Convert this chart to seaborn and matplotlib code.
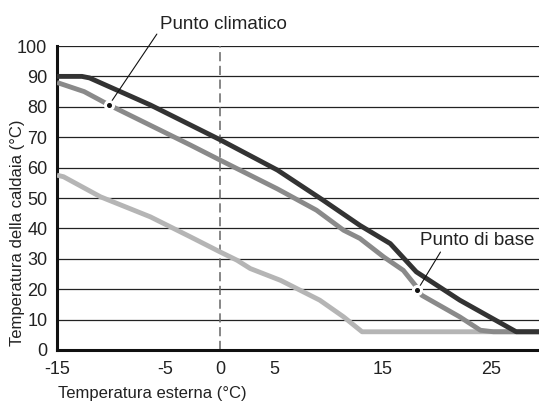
import pandas as pd
import seaborn as sns
import matplotlib.pyplot as plt

sns.set_theme(style="white")
plt.rcParams["font.family"] = ["Liberation Sans", "DejaVu Sans"]
plt.rcParams["axes.unicode_minus"] = False

# curve points (outside temp, boiler temp)
alta_x = [-15, -12.7, -12, -6.4, 0, 5.3, 9.5, 12.9, 15.7, 18.1, 22.1, 27.3, 29.4]
alta_y = [90, 90, 89.5, 80.6, 69.2, 59.2, 49.3, 41, 35, 25.7, 16.4, 6, 6]
media_x = [-15, -12.5, -10.2, -2.7, 0, 5.3, 8.9, 11.4, 12.9, 15.1, 16.9, 18.0, 18.6, 22.1, 24, 25.2, 29.4]
media_y = [88, 85, 80.6, 67.4, 62.5, 53, 46, 39.4, 36.7, 30.6, 26.2, 21.3, 18, 10.9, 6.5, 6, 6]
bassa_x = [-15, -14.4, -11, -6.4, -2.7, 0, 1.6, 2.8, 5.6, 9.2, 11.4, 13.1, 29.4]
bassa_y = [57.5, 57, 50.4, 43.8, 37.2, 32.3, 29.5, 26.8, 22.9, 16.4, 10.9, 6, 6]

punto_climatico = (-10.2, 80.6)
punto_base = (18.2, 19.7)

xticks = [-15, -5, 0, 5, 15, 25]
yticks = list(range(0, 101, 10))

df = pd.concat([
    pd.DataFrame({"x": bassa_x, "y": bassa_y, "curva": "bassa"}),
    pd.DataFrame({"x": media_x, "y": media_y, "curva": "media"}),
    pd.DataFrame({"x": alta_x, "y": alta_y, "curva": "alta"}),
])
colori = {"bassa": "#b5b5b5", "media": "#8a8a8a", "alta": "#333333"}

fig = plt.figure(figsize=(5.39, 4.01), dpi=100)
ax = fig.add_axes([57 / 539, 1 - 350 / 401, 482 / 539, 304 / 401])

for y in yticks[1:]:
    ax.axhline(y, color="#222222", lw=0.9, zorder=1)
ax.axvline(0, color="#666666", lw=1.1, ls=(0, (6, 3)), zorder=1)

sns.lineplot(data=df, x="x", y="y", hue="curva", palette=colori, sort=False,
             estimator=None, lw=3.5, legend=False, ax=ax, zorder=3,
             solid_capstyle="butt")

for px, py in [punto_climatico, punto_base]:
    ax.plot(px, py, "o", ms=7, mfc="white", mec="white", zorder=4, clip_on=False)
    ax.plot(px, py, "o", ms=2.6, mfc="#111111", mec="#111111", zorder=5)

ax.annotate("Punto climatico", xy=punto_climatico, xytext=(-5.5, 107.2),
            fontsize=13.5, color="#222222", va="center", ha="left",
            annotation_clip=False,
            arrowprops=dict(arrowstyle="-", color="#111111", lw=0.8,
                            shrinkA=0, shrinkB=0, relpos=(0, 0.2)))
ax.annotate("Punto di base", xy=punto_base, xytext=(18.4, 36.1),
            fontsize=13.5, color="#222222", va="center", ha="left",
            annotation_clip=False,
            arrowprops=dict(arrowstyle="-", color="#111111", lw=0.8,
                            shrinkA=0, shrinkB=0, relpos=(0.2, 0)))

ax.set_xlim(-15, 29.4)
ax.set_ylim(0, 100)
ax.set_xticks(xticks)
ax.set_yticks(yticks)
ax.tick_params(axis="both", labelsize=13, colors="#222222", direction="out",
               width=1, length=5, pad=3)
ax.tick_params(axis="y", length=4)
for side in ["top", "right"]:
    ax.spines[side].set_visible(False)
for side in ["left", "bottom"]:
    ax.spines[side].set_color("#111111")
    ax.spines[side].set_linewidth(2.2)

ax.set_xlabel("Temperatura esterna (°C)", fontsize=12, color="#222222")
ax.set_ylabel("Temperatura della caldaia (°C)", fontsize=12, color="#222222")
ax.xaxis.set_label_coords(0.197, -0.117)
ax.yaxis.set_label_coords(-0.066, 0.385)

plt.savefig("out.png", dpi=100)
